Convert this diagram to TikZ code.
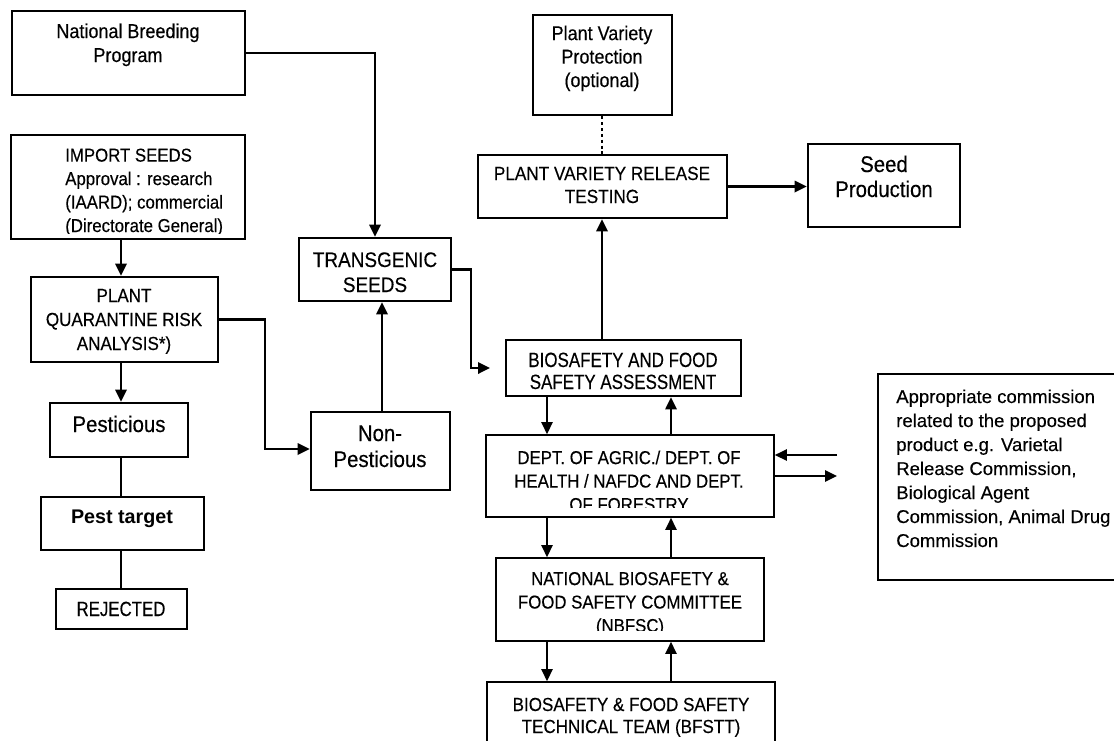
\documentclass[tikz,border=0pt]{standalone}
\usepackage{fontspec}
\setmainfont{Liberation Sans}
\newfontfamily\nf{Liberation Sans}[FakeStretch=0.9,FakeBold=0.3]
\newfontfamily\nnf{Liberation Sans}[FakeStretch=0.82,FakeBold=0.3]
\newfontfamily\cf{Liberation Sans}[FakeBold=0.3]
\usetikzlibrary{arrows.meta,fit}
\tikzset{
  bx/.style={draw, line width=1.9pt, inner sep=0pt},
  tbx/.style={draw, line width=1.3pt, inner sep=0pt},
  cbx/.style={draw, line width=1pt, inner sep=0pt},
  lbl/.style={align=center, anchor=base, inner sep=0pt},
  arr/.style={line width=1.7pt, -{Triangle[length=9pt,width=8.5pt]}},
  tarr/.style={line width=1.2pt, -{Triangle[length=9pt,width=8.5pt]}},
  ln/.style={line width=1.7pt},
  dotln/.style={line width=2pt, dash pattern=on 2.2pt off 2.2pt},
}
\begin{document}
\begin{tikzpicture}[x=0.75pt,y=-0.75pt]
\useasboundingbox[fill=white] (0,0) rectangle (1114,740);
% boxes
\node[bx, fit={(12,11) (245,95)}] (nbp) {};
\node[bx, fit={(11,135) (245,239)}] (imp) {};
\node[bx, fit={(31,277) (218,362)}] (pqra) {};
\node[bx, fit={(50,403) (188,457)}] (pest) {};
\node[bx, fit={(41,497) (204,550)}] (pestt) {};
\node[bx, fit={(56,589) (187,629)}] (rej) {};
\node[bx, fit={(311,412) (450,490)}] (nonp) {};
\node[bx, fit={(299,238) (451,301)}] (trans) {};
\node[bx, fit={(533,15) (672,115)}] (pvp) {};
\node[bx, fit={(478,155) (727,218)}] (pvrt) {};
\node[bx, fit={(808,144) (960,227)}] (seedp) {};
\node[bx, fit={(506,340) (741,396)}] (bfsa) {};
\node[tbx, fit={(486,435) (774,517)}] (dept) {};
\node[tbx, fit={(496,558) (764,641)}] (nbfsc) {};
\node[tbx, fit={(487,682) (775,760)}] (bfstt) {};
\node[cbx, fit={(878,374) (1130,580)}] (comm) {};
% texts (base anchor = baseline of the last line)
\node[lbl, font=\nf\fontsize{15}{18}\selectfont] (tnbp) at (128,62) {National Breeding\\Program};
\begin{scope}
\clip (11,135) rectangle (245,233);
\node[lbl, anchor=base west, align=left, font=\nf\fontsize{14}{17.6}\selectfont] (timp) at (65,232) {IMPORT SEEDS\\Approval : research\\(IAARD); commercial\\(Directorate General)};
\end{scope}
\node[lbl, font=\nf\fontsize{14.2}{18}\selectfont] (tpqra) at (124,350) {PLANT\\QUARANTINE RISK\\ANALYSIS*)};
\node[lbl, font=\nf\fontsize{17}{19.5}\selectfont] (tpest) at (119,432) {Pesticious};
\node[lbl, font=\fontsize{14.8}{18}\selectfont\bfseries] (tpestt) at (122,523) {Pest target};
\node[lbl, font=\nnf\fontsize{15.4}{18}\selectfont] (trej) at (121,616) {REJECTED};
\node[lbl, font=\nf\fontsize{17}{19.5}\selectfont] (tnonp) at (380,467) {Non-\\Pesticious};
\node[lbl, font=\nf\fontsize{15.8}{18.75}\selectfont] (ttrans) at (375,292) {TRANSGENIC\\SEEDS};
\node[lbl, font=\nf\fontsize{15}{17.6}\selectfont] (tpvp) at (602,87) {Plant Variety\\Protection\\(optional)};
\node[lbl, font=\nf\fontsize{14.3}{17.25}\selectfont] (tpvrt) at (602,203) {PLANT VARIETY RELEASE\\TESTING};
\node[lbl, font=\nf\fontsize{17}{18.75}\selectfont] (tseedp) at (884,197) {Seed\\Production};
\node[lbl, font=\nnf\fontsize{15.5}{16.5}\selectfont] (tbfsa) at (623,389) {BIOSAFETY AND FOOD\\SAFETY ASSESSMENT};
\begin{scope}
\clip (486,435) rectangle (774,507);
\node[lbl, font=\nf\fontsize{14}{17.6}\selectfont] (tdept) at (629,511) {DEPT. OF AGRIC./ DEPT. OF\\HEALTH / NAFDC AND DEPT.\\OF FORESTRY};
\end{scope}
\begin{scope}
\clip (496,558) rectangle (764,630);
\node[lbl, font=\nf\fontsize{14}{17.6}\selectfont] (tnbfsc) at (630,632) {NATIONAL BIOSAFETY \&\\FOOD SAFETY COMMITTEE\\(NBFSC)};
\end{scope}
\node[lbl, font=\nf\fontsize{14.2}{16.5}\selectfont] (tbfstt) at (631,733) {BIOSAFETY \& FOOD SAFETY\\TECHNICAL TEAM (BFSTT)};
\node[lbl, anchor=base west, align=left, font=\cf\fontsize{13.9}{18}\selectfont] (tcomm) at (896,547) {Appropriate commission\\related to the proposed\\product e.g. Varietal\\Release Commission,\\Biological Agent\\Commission, Animal Drug\\Commission};
% helper coordinates
\coordinate (xl) at (121,0);
\coordinate (x382) at (382,0);
\coordinate (xm) at (602,0);
\coordinate (xa) at (547,0);
\coordinate (xb) at (671,0);
\coordinate (c6) at (265,449);
\coordinate (c8) at (471,368);
\coordinate (e8) at (490,368);
\coordinate (ca) at (837,455);
\coordinate (cb) at (837,476);
% connectors
\draw[arr] (nbp.east) -| (trans.north);
\draw[arr] (imp.south -| xl) -- (pqra.north -| xl);
\draw[arr] (pqra.south -| xl) -- (pest.north -| xl);
\draw[ln] (pest.south -| xl) -- (pestt.north -| xl);
\draw[ln] (pestt.south -| xl) -- (rej.north -| xl);
\draw[arr] (pqra.east) -- (pqra.east -| c6) -- (c6) -- (nonp.west |- c6);
\draw[arr] (nonp.north -| x382) -- (trans.south -| x382);
\draw[arr] (trans.east) -| (c8) -- (e8);
\draw[arr] (bfsa.north -| xm) -- (pvrt.south -| xm);
\draw[dotln] (pvp.south -| xm) -- (pvrt.north -| xm);
\draw[arr] (pvrt.east) -- (seedp.west |- pvrt.east);
\draw[tarr] (bfsa.south -| xa) -- (dept.north -| xa);
\draw[tarr] (dept.north -| xb) -- (bfsa.south -| xb);
\draw[tarr] (dept.south -| xa) -- (nbfsc.north -| xa);
\draw[tarr] (nbfsc.north -| xb) -- (dept.south -| xb);
\draw[tarr] (nbfsc.south -| xa) -- (bfstt.north -| xa);
\draw[tarr] (bfstt.north -| xb) -- (nbfsc.south -| xb);
\draw[tarr] (ca) -- (dept.east |- ca);
\draw[tarr] (dept.east |- cb) -- (cb);
\end{tikzpicture}
\end{document}
